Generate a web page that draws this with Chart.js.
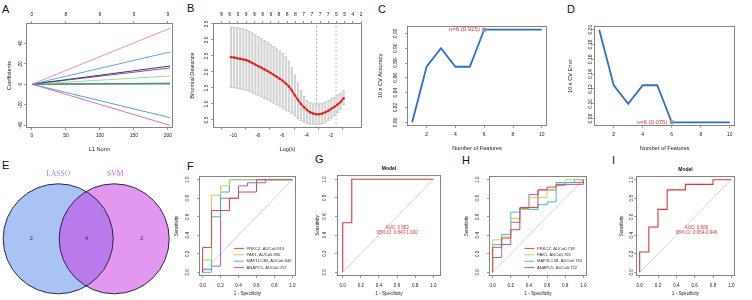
<!DOCTYPE html>
<html>
<head>
<meta charset="utf-8">
<title>LASSO / SVM-RFE feature selection and ROC curves</title>
<script src="https://cdn.jsdelivr.net/npm/chart.js@4.4.1/dist/chart.umd.min.js"></script>
<style>
  body { margin: 0; width: 752px; height: 300px; background: #fff; position: relative; overflow: hidden;
         font-family: "Liberation Sans", Arial, sans-serif; }
  .tag { position: absolute; font-size: 11px; line-height: 11px; color: #111; }
  .pane { position: absolute; }
  .pane canvas { display: block; }
</style>
</head>
<body>
<div class="tag" style="left:2px;top:4px">A</div>
<div class="tag" style="left:187px;top:3px">B</div>
<div class="tag" style="left:378px;top:4px">C</div>
<div class="tag" style="left:567px;top:4px">D</div>
<div class="tag" style="left:2px;top:160px">E</div>
<div class="tag" style="left:187px;top:161px">F</div>
<div class="tag" style="left:315px;top:154px">G</div>
<div class="tag" style="left:462px;top:155px">H</div>
<div class="tag" style="left:612px;top:155px">I</div>
<script>
// ---------- A: LASSO coefficient paths (value of each path at the largest L1 norm)
const aL1Max = 203;
const aCoefEnd = [54.7, 31.5, 17.8, 15.9, 8.0, 1.0, 0.3, -32.8, -40.3];
const aCoefColors = ['#f08fb2', '#5fa8d8', '#2f3b6b', '#a4479c', '#a3d6a0', '#2b9b78', '#4a4a4a', '#5b9fd4', '#e8709c'];
const aTopTicks = [0, 50, 100, 150, 200];
const aTopLabels = ['0', '8', '9', '9', '9'];

// ---------- B: 10-fold CV binomial deviance
const bLogLambda = [-10.2, -9.95, -9.7, -9.45, -9.2, -8.95, -8.7, -8.45, -8.2, -7.95, -7.7, -7.45, -7.2,
  -6.95, -6.7, -6.45, -6.2, -5.95, -5.7, -5.45, -5.2, -4.95, -4.7, -4.45, -4.2, -3.95, -3.7, -3.45,
  -3.2, -2.95, -2.7, -2.45, -2.2, -1.95, -1.7, -1.45, -1.2, -0.95];
const bDeviance = [2.46, 2.45, 2.43, 2.41, 2.39, 2.37, 2.33, 2.28, 2.23, 2.18, 2.13, 2.08, 2.03,
  1.97, 1.91, 1.85, 1.79, 1.72, 1.64, 1.55, 1.42, 1.27, 1.13, 1.00, 0.90, 0.81, 0.74, 0.70,
  0.68, 0.68, 0.70, 0.74, 0.79, 0.85, 0.91, 0.98, 1.06, 1.18];
const bUpper = [3.40, 3.39, 3.38, 3.36, 3.34, 3.31, 3.27, 3.22, 3.16, 3.10, 3.04, 2.98, 2.92,
  2.86, 2.79, 2.72, 2.65, 2.57, 2.47, 2.33, 2.13, 1.90, 1.65, 1.42, 1.24, 1.11, 1.04, 1.01,
  1.00, 1.00, 1.02, 1.06, 1.11, 1.16, 1.21, 1.27, 1.33, 1.41];
const bLower = [1.52, 1.51, 1.49, 1.47, 1.45, 1.43, 1.40, 1.35, 1.30, 1.26, 1.22, 1.18, 1.14,
  1.09, 1.03, 0.98, 0.93, 0.87, 0.81, 0.76, 0.70, 0.63, 0.55, 0.48, 0.43, 0.40, 0.38, 0.37,
  0.37, 0.37, 0.39, 0.43, 0.49, 0.56, 0.64, 0.73, 0.84, 0.98];
const bLambdaMin = -3.16;
const bLambda1se = -1.57;
const bTopTicks = [-9.9, -9.36, -8.82, -8.28, -7.74, -7.2, -6.66, -6.12, -5.58, -5.04, -4.5,
  -3.96, -3.42, -2.88, -2.34, -1.8, -1.26, -0.72];
const bTopLabels = ['9', '9', '9', '9', '9', '9', '9', '8', '8', '8', '7', '7', '7', '7', '5', '5', '4', '2'];

// ---------- C, D: SVM-RFE
const featureCounts = [1, 2, 3, 4, 5, 6, 7, 8, 9, 10];
const cvAccuracy = [0.800, 0.875, 0.900, 0.875, 0.875, 0.925, 0.925, 0.925, 0.925, 0.925];
const cvError = [0.200, 0.125, 0.100, 0.125, 0.125, 0.075, 0.075, 0.075, 0.075, 0.075];

// ---------- E: Venn
const vennSets = ['LASSO', 'SVM'];
const vennCounts = [2, 4, 2]; // LASSO only, both, SVM only

// ---------- F, H: single-gene ROC  (points are [1 - specificity, sensitivity])
const rocGenes = ['PRKCZ', 'PAK1', 'MAP1LC3B', 'ANAPC5'];
const rocColors = ['#e0454d', '#bcd94e', '#33c1d3', '#a45ddb'];
const trainAuc = [0.813, 0.890, 0.846, 0.757];
const testAuc = [0.718, 0.765, 0.765, 0.722];
const trainRoc = [
  [[0, 0], [0, 0.267], [0.1, 0.267], [0.1, 0.667], [0.3, 0.667], [0.3, 0.8], [0.4, 0.8], [0.4, 0.867], [0.6, 0.867], [0.6, 1], [1, 1]],
  [[0, 0], [0, 0.133], [0.1, 0.133], [0.1, 0.833], [0.2, 0.833], [0.2, 0.933], [0.3, 0.933], [0.3, 1], [1, 1]],
  [[0, 0], [0.1, 0], [0.1, 0.6], [0.2, 0.6], [0.2, 0.867], [0.3, 0.867], [0.3, 1], [1, 1]],
  [[0, 0], [0, 0.033], [0.1, 0.033], [0.1, 0.067], [0.2, 0.067], [0.2, 0.8], [0.4, 0.8], [0.4, 0.933], [0.5, 0.933], [0.5, 0.967], [0.7, 0.967], [0.7, 1], [1, 1]]
];
const testRoc = [
  [[0, 0], [0, 0.27], [0.1, 0.27], [0.1, 0.37], [0.2, 0.37], [0.2, 0.46], [0.3, 0.46], [0.3, 0.70], [0.5, 0.70], [0.5, 0.89], [0.6, 0.89], [0.6, 0.92], [0.7, 0.92], [0.7, 0.95], [1, 0.95], [1, 1]],
  [[0, 0], [0, 0.35], [0.1, 0.35], [0.1, 0.38], [0.2, 0.38], [0.2, 0.58], [0.3, 0.58], [0.3, 0.68], [0.4, 0.68], [0.4, 0.81], [0.6, 0.81], [0.6, 0.89], [0.7, 0.89], [0.7, 0.95], [0.8, 0.95], [0.8, 1], [1, 1]],
  [[0, 0], [0, 0.30], [0.1, 0.30], [0.1, 0.41], [0.2, 0.41], [0.2, 0.65], [0.3, 0.65], [0.3, 0.68], [0.5, 0.68], [0.5, 0.73], [0.6, 0.73], [0.6, 0.76], [0.7, 0.76], [0.7, 0.97], [0.9, 0.97], [0.9, 1], [1, 1]],
  [[0, 0], [0, 0.16], [0.1, 0.16], [0.1, 0.30], [0.2, 0.30], [0.2, 0.54], [0.3, 0.54], [0.3, 0.69], [0.4, 0.69], [0.4, 0.84], [0.5, 0.84], [0.5, 0.89], [0.7, 0.89], [0.7, 0.94], [0.8, 0.94], [0.8, 0.97], [1, 0.97], [1, 1]]
];

// ---------- G, I: combined model ROC
const modelAuc = [0.953, 0.800];
const modelCi = [[0.843, 1.000], [0.654, 0.946]];
const trainModelRoc = [[0, 0], [0, 0.533], [0.1, 0.533], [0.1, 1], [1, 1]];
const testModelRoc = [[0, 0], [0, 0.22], [0.1, 0.22], [0.1, 0.49], [0.2, 0.49], [0.2, 0.68], [0.3, 0.68], [0.3, 0.89], [0.5, 0.89], [0.5, 0.95], [0.8, 0.95], [0.8, 1], [1, 1]];

const rocTicks = [0, 0.2, 0.4, 0.6, 0.8, 1.0];

// ================= drawing =================
const FONT = '"Liberation Sans", Arial, sans-serif';
const SERIF = '"Liberation Serif", "Times New Roman", serif';
const INK = '#222';
const NOTE_RED = '#e2333b';

const mctx = document.createElement('canvas').getContext('2d');
function textW(s, size) {
  mctx.font = size + 'px ' + FONT;
  return mctx.measureText(s).width;
}

// box around the plot region, like R's box()
const framePlugin = {
  id: 'frame',
  afterDatasetsDraw(chart, args, opts) {
    if (!opts.show) return;
    const {ctx, chartArea: a} = chart;
    ctx.save();
    ctx.strokeStyle = opts.color || '#666';
    ctx.lineWidth = 1;
    ctx.strokeRect(a.left + 0.5, a.top + 0.5, a.right - a.left - 1, a.bottom - a.top - 1);
    ctx.restore();
  }
};

// free text and legend keys placed in data units
const notesPlugin = {
  id: 'notes',
  afterDatasetsDraw(chart, args, opts) {
    const items = opts.items || [];
    const {ctx} = chart;
    const xs = chart.scales.x, ys = chart.scales.y;
    items.forEach(n => {
      const px = xs.getPixelForValue(n.x), py = ys.getPixelForValue(n.y);
      ctx.save();
      if (n.x2 !== undefined) {
        ctx.strokeStyle = n.color;
        ctx.lineWidth = n.lw || 1;
        ctx.beginPath();
        ctx.moveTo(px, py);
        ctx.lineTo(xs.getPixelForValue(n.x2), py);
        ctx.stroke();
      } else {
        ctx.font = n.font;
        ctx.fillStyle = n.color;
        ctx.textAlign = n.align || 'center';
        ctx.textBaseline = 'middle';
        ctx.fillText(n.text, px, py);
      }
      ctx.restore();
    });
  }
};
Chart.register(framePlugin, notesPlugin);

function pts(arr) { return arr.map(([x, y]) => ({x, y})); }

function makePanel(p) {
  const fs = p.fs, tfs = p.tfs || p.fs;
  const lh = fs * 1.2, tlh = tfs * 1.2, tl = 2;
  const bottom = p.box.y + p.box.h;
  const L = Math.round(p.box.x - (p.yTitleX - tlh / 2));
  const B = Math.round(p.xTitleY + tlh / 2 - bottom);
  const T = p.box.y - p.top;
  const R = 8;
  const W = L + p.box.w + R, H = T + p.box.h + B;

  const wrap = document.createElement('div');
  wrap.className = 'pane';
  wrap.style.left = (p.box.x - L) + 'px';
  wrap.style.top = p.top + 'px';
  const cv = document.createElement('canvas');
  cv.width = W;
  cv.height = H;
  wrap.appendChild(cv);
  document.body.appendChild(wrap);

  const tickFont = {family: FONT, size: fs};
  const titleFont = {family: FONT, size: tfs};
  const tickGrid = {drawOnChartArea: false, tickLength: tl, color: '#777', lineWidth: 0.7};
  const yWidest = Math.max(...p.y.ticks.map(v => textW(p.y.fmt(v), fs)));

  const scales = {
    x: {
      type: 'linear', position: 'bottom', min: p.x.min, max: p.x.max,
      afterBuildTicks: s => { s.ticks = p.x.ticks.map(v => ({value: v})); },
      afterFit: s => { s.height = B; },
      grid: tickGrid,
      border: {display: false},
      ticks: {font: tickFont, color: INK, padding: p.xLabY - bottom - tl - lh / 2, autoSkip: false,
              maxRotation: 0, callback: v => p.x.fmt(v)},
      title: {display: true, text: p.x.title, font: titleFont, color: INK, padding: 0}
    },
    y: {
      type: 'linear', position: 'left', min: p.y.min, max: p.y.max,
      afterBuildTicks: s => { s.ticks = p.y.ticks.map(v => ({value: v})); },
      afterFit: s => { s.width = L; },
      grid: tickGrid,
      border: {display: false},
      ticks: {font: tickFont, color: INK, padding: p.box.x - p.yLabX - tl - yWidest / 2, autoSkip: false,
              minRotation: 90, maxRotation: 90, crossAlign: 'center', callback: v => p.y.fmt(v)},
      title: {display: true, text: p.y.title, font: titleFont, color: INK, padding: 0}
    }
  };
  if (p.topAxis) {
    scales.xTop = {
      type: 'linear', axis: 'x', position: 'top', min: p.x.min, max: p.x.max,
      afterBuildTicks: s => { s.ticks = p.topAxis.at.map(v => ({value: v})); },
      afterFit: s => { s.height = T; },
      grid: tickGrid,
      border: {display: false},
      ticks: {font: tickFont, color: INK, padding: p.box.y - p.topAxis.labY - tl - lh / 2, autoSkip: false,
              maxRotation: 0, callback: (v, i) => p.topAxis.labels[i]}
    };
  }
  let title = {display: false};
  if (p.title) {
    const hl = p.titleFs * 1.2;
    const pt = p.titleY - p.top - hl / 2;
    title = {display: true, text: p.title, fullSize: false, color: '#111',
             font: {family: FONT, size: p.titleFs, weight: 'bold'},
             padding: {top: pt, bottom: T - hl - pt}};
  }

  return new Chart(cv, {
    type: 'scatter',
    data: {datasets: p.datasets},
    options: {
      responsive: false,
      animation: false,
      events: [],
      layout: {autoPadding: false, padding: {top: (p.topAxis || p.title) ? 0 : T, right: R, left: 0, bottom: 0}},
      scales,
      plugins: {
        legend: {display: false},
        tooltip: {enabled: false},
        title,
        frame: {show: true, color: '#858585'},
        notes: {items: p.notes || []}
      }
    }
  });
}

const asInt = v => String(v);
const dec1 = v => v.toFixed(1);
const dec2 = v => v.toFixed(2);

// ---- A
makePanel({
  box: {x: 26, y: 23, w: 147, h: 105}, top: 5, fs: 5, tfs: 5.6,
  yTitleX: 9, yLabX: 21, xLabY: 136, xTitleY: 150,
  topAxis: {at: aTopTicks, labels: aTopLabels, labY: 15},
  x: {min: -8.8, max: 207.4, ticks: [0, 50, 100, 150, 200], fmt: asInt, title: 'L1 Norm'},
  y: {min: -42.9, max: 59.9, ticks: [-40, -20, 0, 20, 40], fmt: asInt, title: 'Coefficients'},
  datasets: aCoefEnd.map((v, i) => ({
    data: [{x: 0, y: 0}, {x: aL1Max, y: v}],
    showLine: true, borderColor: aCoefColors[i], borderWidth: 1, pointRadius: 0
  }))
});

// ---- B
const bYMin = 0.25, bYMax = 3.53;
makePanel({
  box: {x: 213, y: 23, w: 149, h: 105}, top: 5, fs: 5, tfs: 5.6,
  yTitleX: 192, yLabX: 206.5, xLabY: 136, xTitleY: 150,
  topAxis: {at: bTopTicks, labels: bTopLabels, labY: 15},
  x: {min: -10.46, max: -0.66, ticks: [-10, -8, -6, -4, -2], fmt: asInt, title: 'Log(\u03bb)'},
  y: {min: bYMin, max: bYMax, ticks: [0.5, 1.0, 1.5, 2.0, 2.5, 3.0, 3.5], fmt: dec1, title: 'Binomial Deviance'},
  datasets: [
    {data: bLogLambda.map((x, i) => ({x, y: bDeviance[i]})), showLine: true, borderColor: '#e3231f',
     borderWidth: 1.6, pointRadius: 1.3, pointBackgroundColor: '#e3231f', pointBorderWidth: 0},
    {data: bLogLambda.flatMap((x, i) => [{x, y: bUpper[i]}, {x, y: bLower[i]}]), pointStyle: 'line',
     pointRadius: 1.6, borderColor: '#c4c4c4', pointBorderColor: '#c4c4c4', pointBorderWidth: 0.8},
    {type: 'bar', data: bLogLambda.map((x, i) => ({x, y: [bLower[i], bUpper[i]]})),
     backgroundColor: '#d4d4d4', borderWidth: 0, barThickness: 1.5, grouped: false},
    {data: [{x: bLambdaMin, y: bYMin}, {x: bLambdaMin, y: bYMax}], showLine: true, borderColor: '#aaa',
     borderWidth: 0.8, borderDash: [2, 2], pointRadius: 0},
    {data: [{x: bLambda1se, y: bYMin}, {x: bLambda1se, y: bYMax}], showLine: true, borderColor: '#aaa',
     borderWidth: 0.8, borderDash: [2, 2], pointRadius: 0}
  ]
});

// ---- C, D
function rfePanel(box, yTitleX, yLabX, values, best, yCfg) {
  return makePanel({
    box, top: 16, fs: 5, tfs: 5.6, yTitleX, yLabX, xLabY: 135, xTitleY: 149,
    x: {min: 0.64, max: 10.36, ticks: [2, 4, 6, 8, 10], fmt: asInt, title: 'Number of Features'},
    y: yCfg,
    datasets: [{
      data: featureCounts.map((x, i) => ({x, y: values[i]})), showLine: true,
      borderColor: '#2b70c9', borderWidth: 1.8, pointStyle: 'rect',
      pointRadius: c => c.dataIndex === best ? 1.6 : 0,
      pointBackgroundColor: '#999', pointBorderColor: '#999'
    }],
    notes: [{x: featureCounts[best] - 0.3, y: values[best], align: 'right', color: NOTE_RED,
             font: '6px ' + FONT, text: 'n=' + featureCounts[best] + ' (' + values[best].toFixed(3) + ')'}]
  });
}
const bestAcc = cvAccuracy.indexOf(Math.max(...cvAccuracy));
const bestErr = cvError.indexOf(Math.min(...cvError));
rfePanel({x: 407, y: 26, w: 140, h: 100}, 380, 395.5, cvAccuracy, bestAcc,
  {min: 0.795, max: 0.93, ticks: [0.80, 0.82, 0.84, 0.86, 0.88, 0.90, 0.92], fmt: dec2, title: '10 x CV Accuracy'});
rfePanel({x: 594, y: 26, w: 141, h: 100}, 570, 591, cvError, bestErr,
  {min: 0.07, max: 0.205, ticks: [0.08, 0.10, 0.12, 0.14, 0.16, 0.18, 0.20], fmt: dec2, title: '10 x CV Error'});

// ---- E: Venn diagram of the two gene sets
(function () {
  const W = 172, H = 140, left = 0, top = 160;
  const cy = 78.8, r = 55, gap = 56, mid = 86.2;
  const circles = [{x: mid - gap / 2, y: cy, r}, {x: mid + gap / 2, y: cy, r}];
  const wrap = document.createElement('div');
  wrap.className = 'pane';
  wrap.style.left = left + 'px';
  wrap.style.top = top + 'px';
  const cv = document.createElement('canvas');
  cv.width = W;
  cv.height = H;
  wrap.appendChild(cv);
  document.body.appendChild(wrap);
  const numFont = '7px ' + SERIF, setFont = '7.5px ' + SERIF;
  new Chart(cv, {
    type: 'bubble',
    data: {datasets: [
      {data: circles, backgroundColor: 'rgba(0,0,0,0)', borderColor: '#2c2545', borderWidth: 1, clip: false},
      {data: circles, backgroundColor: ['rgb(170,194,244)', 'rgba(200,50,225,0.5)'], borderWidth: 0, clip: false}
    ]},
    options: {
      responsive: false, animation: false, events: [],
      layout: {autoPadding: false, padding: 0},
      scales: {x: {display: false, min: 0, max: W}, y: {display: false, min: 0, max: H, reverse: true}},
      plugins: {
        legend: {display: false}, tooltip: {enabled: false},
        notes: {items: [
          {x: circles[0].x, y: 14.3, text: vennSets[0], color: '#8498de', font: setFont},
          {x: circles[1].x + 1, y: 14.3, text: vennSets[1], color: '#c957d8', font: setFont},
          {x: circles[0].x - 27, y: cy - 0.5, text: String(vennCounts[0]), color: '#333', font: numFont},
          {x: mid, y: cy - 0.5, text: String(vennCounts[1]), color: '#333', font: numFont},
          {x: circles[1].x + 27.5, y: cy - 0.5, text: String(vennCounts[2]), color: '#333', font: numFont}
        ]}
      }
    }
  });
})();

// ---- F, G, H, I: ROC panels
const diagonal = {data: [{x: 0, y: 0}, {x: 1, y: 1}], showLine: true, borderColor: '#d2d2d2', borderWidth: 1, pointRadius: 0};
function rocAxis(title, min, max) {
  return {min, max, ticks: rocTicks, fmt: dec1, title};
}
function geneLegend(auc) {
  const items = [];
  rocGenes.forEach((g, i) => {
    const y = 0.258 - i * 0.069;
    items.push({x: 0.35, x2: 0.46, y, color: rocColors[i], lw: 1});
    items.push({x: 0.49, y, align: 'left', color: '#333', font: '4.1px ' + FONT, text: g + ', AUC=' + auc[i].toFixed(3)});
  });
  return items;
}
function geneSets(curves) {
  return curves.map((c, i) => ({data: pts(c), showLine: true, borderColor: rocColors[i], borderWidth: 1, pointRadius: 0}))
    .concat([diagonal]);
}
function modelNotes(k, x) {
  return [
    {x, y: 0.484, color: NOTE_RED, font: '4.5px ' + FONT, text: 'AUC: ' + modelAuc[k].toFixed(3)},
    {x, y: 0.43, color: NOTE_RED, font: '4.5px ' + FONT,
     text: '95% CI: ' + modelCi[k][0].toFixed(3) + '-' + modelCi[k][1].toFixed(3)}
  ];
}

makePanel({
  box: {x: 199, y: 176, w: 97, h: 100}, top: 166, fs: 4.6,
  yTitleX: 177, yLabX: 188, xLabY: 286, xTitleY: 293,
  x: rocAxis('1 - Specificity', -0.04, 1.04), y: rocAxis('Sensitivity', -0.04, 1.04),
  datasets: geneSets(trainRoc), notes: geneLegend(trainAuc)
});
makePanel({
  box: {x: 337, y: 175, w: 104, h: 101}, top: 161, fs: 4.6,
  title: 'Model', titleFs: 5, titleY: 169,
  yTitleX: 318, yLabX: 325, xLabY: 286, xTitleY: 293,
  x: rocAxis('1 - Specificity', -0.063, 1.085), y: rocAxis('Sensitivity', -0.04, 1.046),
  datasets: [{data: pts(trainModelRoc), showLine: true, borderColor: '#e0353d', borderWidth: 1.1, pointRadius: 0}, diagonal],
  notes: modelNotes(0, 0.6)
});
makePanel({
  box: {x: 489, y: 176, w: 98, h: 100}, top: 166, fs: 4.6,
  yTitleX: 467, yLabX: 478, xLabY: 286, xTitleY: 293,
  x: rocAxis('1 - Specificity', -0.04, 1.04), y: rocAxis('Sensitivity', -0.04, 1.04),
  datasets: geneSets(testRoc), notes: geneLegend(testAuc)
});
makePanel({
  box: {x: 636, y: 176, w: 99, h: 100}, top: 162, fs: 4.6,
  title: 'Model', titleFs: 5, titleY: 170,
  yTitleX: 622, yLabX: 632, xLabY: 286, xTitleY: 293,
  x: rocAxis('1 - Specificity', -0.04, 1.04), y: rocAxis('Sensitivity', -0.04, 1.04),
  datasets: [{data: pts(testModelRoc), showLine: true, borderColor: '#e0353d', borderWidth: 1.1, pointRadius: 0}, diagonal],
  notes: modelNotes(1, 0.62)
});
</script>
</body>
</html>
